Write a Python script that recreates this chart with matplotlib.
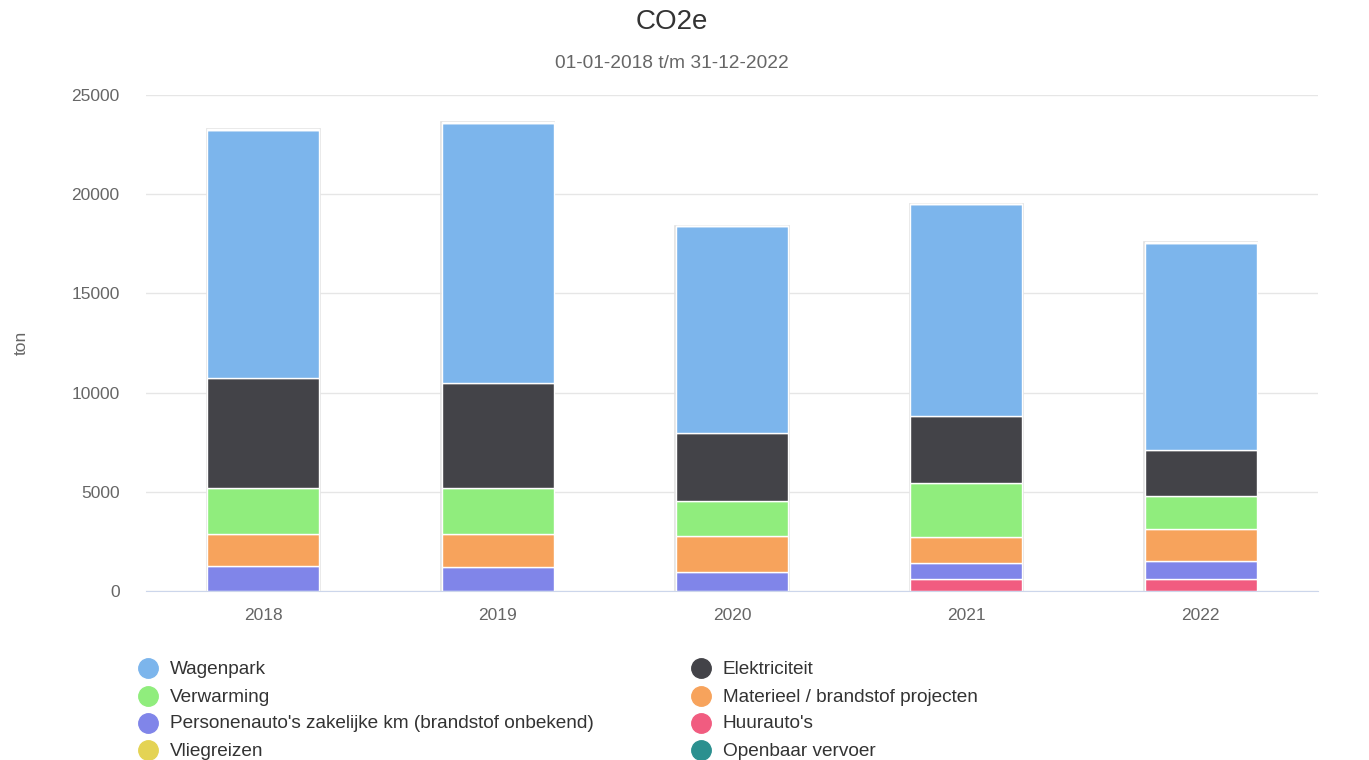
import numpy as np
import matplotlib.pyplot as plt
from matplotlib.lines import Line2D

plt.rcParams['font.family'] = ['Liberation Sans', 'DejaVu Sans']

years = ['2018', '2019', '2020', '2021', '2022']

# stacked from bottom to top (ton CO2e)
huurautos = [0, 0, 0, 600, 600]
personenautos = [1260, 1210, 960, 810, 910]
materieel = [1610, 1660, 1810, 1310, 1610]
verwarming = [2320, 2320, 1770, 2720, 1670]
elektriciteit = [5550, 5290, 3420, 3380, 2320]
wagenpark = [12500, 13110, 10440, 10680, 10430]
vliegreizen = [20, 20, 10, 10, 20]
openbaar_vervoer = [10, 10, 10, 10, 10]

series = [
    ("Huurauto's", huurautos, '#f15c80'),
    ("Personenauto's zakelijke km (brandstof onbekend)", personenautos, '#8085e9'),
    ("Materieel / brandstof projecten", materieel, '#f7a35c'),
    ("Verwarming", verwarming, '#90ed7d'),
    ("Elektriciteit", elektriciteit, '#434348'),
    ("Wagenpark", wagenpark, '#7cb5ec'),
    ("Vliegreizen", vliegreizen, '#e4d354'),
    ("Openbaar vervoer", openbaar_vervoer, '#2b908f'),
]

fig = plt.figure(figsize=(13.69, 7.6), dpi=100)
ax = fig.add_axes([146 / 1369, 1 - 591 / 760, 1172 / 1369, 496 / 760])

x = np.arange(len(years))
width = 0.478

totals = np.sum([s[1] for s in series], axis=0)
ax.bar(x, totals, width * 1.012, color='none', edgecolor='#e0e0e0', linewidth=1.2, zorder=1)

bottom = np.zeros(len(years))
for name, vals, color in series:
    ax.bar(x, vals, width, bottom=bottom, color=color, edgecolor='white',
           linewidth=1, zorder=2, label=name)
    bottom += np.array(vals)

ax.set_xlim(-0.5, len(years) - 0.5)
ax.set_ylim(0, 25000)
ax.set_yticks([0, 5000, 10000, 15000, 20000, 25000])
ax.set_xticks(x)
ax.set_xticklabels(years)
ax.yaxis.grid(True, color='#e6e6e6', linewidth=1)
ax.set_axisbelow(True)
for side in ['top', 'right', 'left']:
    ax.spines[side].set_visible(False)
ax.spines['bottom'].set_color('#ccd6eb')
ax.tick_params(axis='y', length=0, pad=19, labelsize=12.5, labelcolor='#666666')
ax.tick_params(axis='x', length=0, pad=12, labelsize=12.5, labelcolor='#666666')
ax.set_ylabel('ton', fontsize=12.5, color='#666666')
ax.yaxis.set_label_coords(-0.1, 0.5)

fig.text(672 / 1369, 1 - 22 / 760, 'CO2e', ha='center', va='center', fontsize=20, color='#333333')
fig.text(672 / 1369, 1 - 63 / 760, '01-01-2018 t/m 31-12-2022', ha='center', va='center',
         fontsize=13.8, color='#666666')

# legend, two columns
legend_rows = [
    ("Wagenpark", '#7cb5ec', "Elektriciteit", '#434348'),
    ("Verwarming", '#90ed7d', "Materieel / brandstof projecten", '#f7a35c'),
    ("Personenauto's zakelijke km (brandstof onbekend)", '#8085e9', "Huurauto's", '#f15c80'),
    ("Vliegreizen", '#e4d354', "Openbaar vervoer", '#2b908f'),
]
row_y = [668, 696, 723, 750]
for (n1, c1, n2, c2), yy in zip(legend_rows, row_y):
    fy = 1 - yy / 760
    for name, color, mx in [(n1, c1, 148), (n2, c2, 701)]:
        fig.add_artist(Line2D([mx / 1369], [fy], marker='o', markersize=14, color=color,
                              linestyle='none', transform=fig.transFigure))
        fig.text((mx + 22) / 1369, fy - 1 / 760, name, ha='left', va='center', fontsize=13.7,
                 color='#333333')

fig.savefig('out.png', dpi=100)
